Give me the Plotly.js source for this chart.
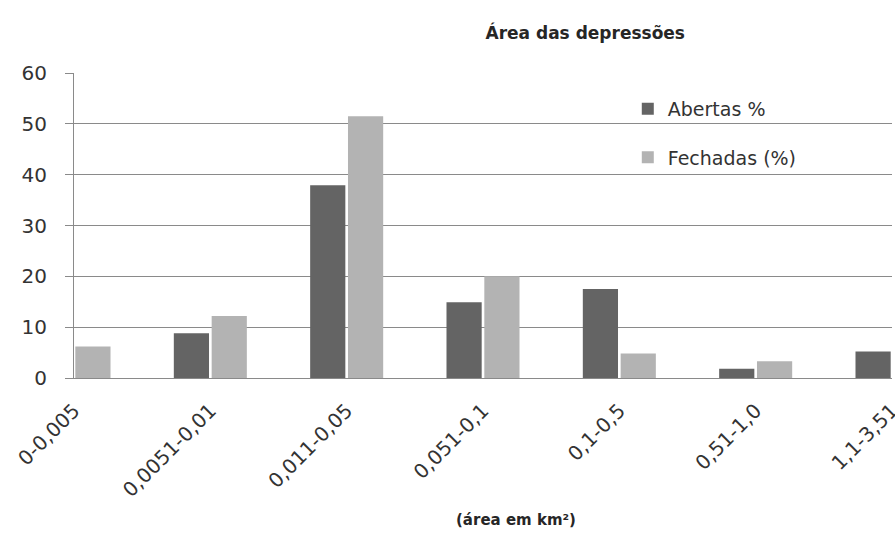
<!DOCTYPE html>
<html>
<head>
<meta charset="utf-8">
<script src="https://cdn.plot.ly/plotly-3.0.1.min.js"></script>
<style>
  html, body { margin: 0; padding: 0; background: #ffffff; }
  #chart { width: 895px; height: 540px; }
</style>
</head>
<body>
<div id="chart"></div>
<script>
// Classes de área (km²)
const categories = ['0-0,005', '0,0051-0,01', '0,011-0,05', '0,051-0,1', '0,1-0,5', '0,51-1,0', '1,1-3,51'];
// Percentagem de depressões abertas por classe
const abertas = [0, 8.8, 37.9, 14.9, 17.5, 1.8, 5.2];
// Percentagem de depressões fechadas por classe
const fechadas = [6.2, 12.2, 51.5, 20.0, 4.8, 3.3, null];
const yTicks = [0, 10, 20, 30, 40, 50, 60];

const FONT = '"DejaVu Sans", Verdana, sans-serif';
const GRID = '#8a8a8a';
const TEXT = '#333333';

const traces = [
  {
    type: 'bar', name: 'Abertas %', x: categories, y: abertas,
    marker: { color: '#646464' }, legendgroup: 'a', hoverinfo: 'skip'
  },
  {
    type: 'bar', name: 'Fechadas (%)', x: categories, y: fechadas,
    marker: { color: '#b3b3b3' }, legendgroup: 'f', hoverinfo: 'skip'
  }
];

const layout = {
  width: 895, height: 540,
  margin: { l: 74, r: 3, t: 73, b: 162 },
  paper_bgcolor: '#ffffff', plot_bgcolor: '#ffffff',
  font: { family: FONT, color: TEXT, size: 16 },
  barmode: 'group', bargap: 0.445, bargroupgap: 0.07,
  title: {
    text: '<b>Área das depressões</b>',
    font: { family: FONT, size: 17, color: '#262626' },
    xref: 'paper', x: 0.625, xanchor: 'center',
    yref: 'container', y: 0.938, yanchor: 'middle'
  },
  xaxis: {
    type: 'category', range: [0, 6],
    showgrid: false, zeroline: false,
    showline: true, linecolor: GRID, linewidth: 1,
    ticks: '', tickangle: -45, ticklabelstandoff: 12,
    tickfont: { family: FONT, size: 20, color: TEXT },
    fixedrange: true
  },
  yaxis: {
    range: [0, 60], tickvals: yTicks, ticktext: yTicks.map(String),
    showgrid: true, gridcolor: GRID, gridwidth: 1,
    zeroline: true, zerolinecolor: GRID, zerolinewidth: 1,
    showline: true, linecolor: GRID, linewidth: 1,
    ticks: 'outside', ticklen: 8, tickcolor: GRID, ticklabelstandoff: 14,
    tickfont: { family: FONT, size: 20, color: TEXT },
    fixedrange: true
  },
  legend: {
    x: 0.677, xanchor: 'left', y: 0.945, yanchor: 'top',
    traceorder: 'grouped', tracegroupgap: 21,
    bgcolor: 'rgba(0,0,0,0)', borderwidth: 0,
    font: { family: FONT, size: 19, color: TEXT }
  },
  annotations: [
    {
      text: '<b>(área em km²)</b>',
      xref: 'paper', x: 0.54, xanchor: 'center',
      yref: 'paper', y: -0.465, yanchor: 'middle',
      showarrow: false,
      font: { family: FONT, size: 15, color: '#262626' }
    }
  ]
};

Plotly.newPlot('chart', traces, layout, { displayModeBar: false, staticPlot: true });
</script>
</body>
</html>
